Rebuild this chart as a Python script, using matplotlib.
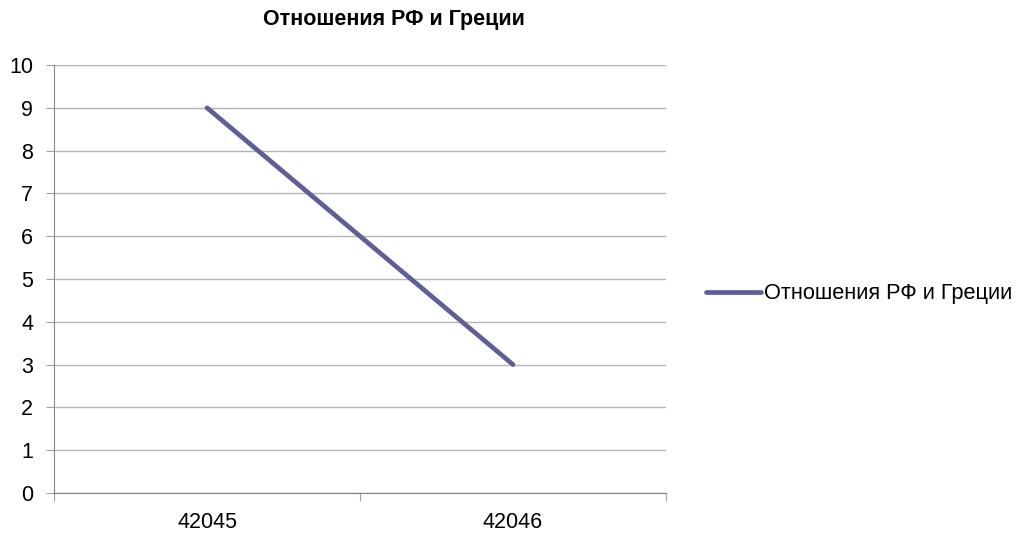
import matplotlib.pyplot as plt
import matplotlib.ticker as mticker

plt.rcParams['font.family'] = ['Liberation Sans', 'DejaVu Sans']

categories = ["42045", "42046"]
values = [9, 3]
series_name = "Отношения РФ и Греции"

fig = plt.figure(figsize=(10.18, 5.38), dpi=100)
ax = fig.add_axes([54/1018, 1-493/538, 612/1018, 428/538])

x = list(range(len(categories)))
ax.plot(x, values, color="#5F5E97", linewidth=3.4, solid_capstyle="round", label=series_name)

ax.set_xlim(-0.5, len(categories) - 0.5)
ax.set_ylim(0, 10)
ax.set_yticks(range(0, 11))
ax.yaxis.grid(True, color="#b4b4b4", linewidth=1.0)
ax.set_axisbelow(True)

# category boundaries as major ticks, labels on minor ticks
ax.xaxis.set_major_locator(mticker.FixedLocator([i - 0.5 for i in range(len(categories) + 1)]))
ax.xaxis.set_major_formatter(mticker.NullFormatter())
ax.xaxis.set_minor_locator(mticker.FixedLocator(x))
ax.xaxis.set_minor_formatter(mticker.FixedFormatter(categories))
ax.tick_params(axis="x", which="major", length=6, color="#a0a0a0", direction="out")
ax.tick_params(axis="x", which="minor", length=0, pad=14, labelsize=15.5)
ax.tick_params(axis="y", length=6, color="#a0a0a0", pad=9, labelsize=15.5)

for s in ["top", "right"]:
    ax.spines[s].set_visible(False)
ax.spines["left"].set_color("#8a8a8a")
ax.spines["bottom"].set_color("#808080")

fig.text(394/1018, 1-20/538, series_name, ha="center", va="center",
         fontsize=15.5, fontweight="bold")

fig.legend(loc="center left", bbox_to_anchor=(706/1018, 1-294/538), frameon=False,
           fontsize=15.7, handlelength=2.5, handletextpad=0.14,
           borderpad=0, borderaxespad=0)

plt.savefig("out.png", dpi=100)
